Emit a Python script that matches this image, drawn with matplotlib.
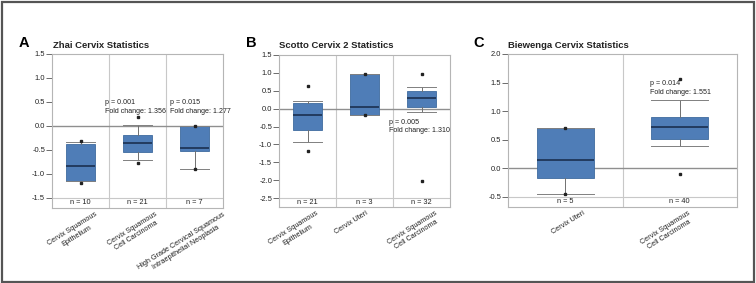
import numpy as np
import matplotlib
matplotlib.use("Agg")
from matplotlib import pyplot as plt
from matplotlib.patches import Rectangle
from matplotlib.transforms import ScaledTranslation

plt.rcParams['font.family'] = ['Liberation Sans', 'DejaVu Sans']

# Panel A - Zhai
a_labels = ['Cervix Squamous\nEpithelium', 'Cervix Squamous\nCell Carcinoma',
            'High Grade Cervical Squamous\nIntraepithelial Neoplasia']
a_n = [10, 21, 7]
a_lo = [-1.15, -0.70, -0.90]
a_q1 = [-1.14, -0.55, -0.53]
a_med = [-0.84, -0.36, -0.45]
a_q3 = [-0.37, -0.19, 0.0]
a_hi = [-0.33, 0.01, 0.0]
a_min = [-1.18, -0.78, -0.90]
a_max = [-0.32, 0.18, -0.01]

# Panel B - Scotto 2
b_labels = ['Cervix Squamous\nEpithelium', 'Cervix Uteri', 'Cervix Squamous\nCell Carcinoma']
b_n = [21, 3, 32]
b_lo = [-0.93, -0.18, -0.09]
b_q1 = [-0.60, -0.18, 0.05]
b_med = [-0.18, 0.04, 0.31]
b_q3 = [0.16, 0.98, 0.49]
b_hi = [0.20, 0.98, 0.61]
b_min = [-1.19, -0.18, -2.03]
b_max = [0.62, 0.98, 0.97]

# Panel C - Biewenga
c_labels = ['Cervix Uteri', 'Cervix Squamous\nCell Carcinoma']
c_n = [5, 40]
c_lo = [-0.44, 0.39]
c_q1 = [-0.16, 0.52]
c_med = [0.15, 0.73]
c_q3 = [0.71, 0.89]
c_hi = [0.71, 1.20]
c_min = [-0.44, -0.10]
c_max = [0.71, 1.57]

W, H = 756, 283
fig = plt.figure(figsize=(W / 100, H / 100), dpi=100)


def add_ax(l, r, t, b):
    return fig.add_axes([l / W, 1 - b / H, (r - l) / W, (b - t) / H])


def draw_panel(ax, labels, n, lo, q1, med, q3, hi, mn, mx, ymin, ymax, pad, shifts):
    stats = []
    for i in range(len(labels)):
        stats.append(dict(whislo=lo[i], q1=q1[i], med=med[i], q3=q3[i],
                          whishi=hi[i], fliers=[mn[i], mx[i]]))
    pos = np.arange(len(labels))
    ax.bxp(stats, positions=pos, widths=0.5, capwidths=0.5, patch_artist=True,
           boxprops=dict(facecolor='#4f7db7', edgecolor='#3f6b9f', linewidth=0.6),
           medianprops=dict(color='#1b3050', linewidth=1.2),
           whiskerprops=dict(color='#707070', linewidth=0.7),
           capprops=dict(color='#808080', linewidth=0.7),
           flierprops=dict(marker='s', markersize=1.6, markerfacecolor='#222222',
                           markeredgecolor='#222222'))
    ax.set_xlim(-0.5, len(labels) - 0.5)
    ax.set_ylim(ymin - pad, ymax)
    for x in pos[1:]:
        ax.axvline(x - 0.5, color='#c8c8c8', lw=0.8, zorder=0)
    ax.axhline(0, color='#8f8f8f', lw=1.0, zorder=1)
    ax.axhline(ymin, color='#c8c8c8', lw=0.8, zorder=0)
    for i in pos:
        ax.text(i, ymin - pad / 2, 'n = %d' % n[i], ha='center', va='center',
                fontsize=5.3, color='#222222')
    ticks = np.arange(ymin, ymax + 0.01, 0.5)
    ax.set_yticks(ticks)
    ax.set_yticklabels(['%.1f' % v for v in ticks])
    ax.set_xticks([])
    # rotated category labels below the n row
    trans = ax.get_xaxis_transform()
    for i in pos:
        off = ScaledTranslation(shifts[i] / 100, -3 / 100, fig.dpi_scale_trans)
        ax.text(i, 0, labels[i], transform=trans + off, rotation=32,
                rotation_mode='anchor', ha='right', va='top',
                multialignment='center', fontsize=5.2, color='#222222')
    ax.tick_params(axis='y', labelsize=5.4, length=4, width=0.6, color='#555555',
                   labelcolor='#222222', pad=1)
    for s in ax.spines.values():
        s.set_color('#b5b5b5')
        s.set_linewidth(0.8)


def annot(ax, x, y, text):
    ax.text(x, y, text, fontsize=5.1, color='#222222', ha='left', va='center',
            linespacing=1.35)


ax_a = add_ax(52, 223, 54, 208)
draw_panel(ax_a, a_labels, a_n, a_lo, a_q1, a_med, a_q3, a_hi, a_min, a_max,
           -1.5, 1.5, 0.21, [14, 17, 28])
annot(ax_a, 0.43, 0.40, 'p = 0.001\nFold change: 1.356')
annot(ax_a, 1.57, 0.40, 'p = 0.015\nFold change: 1.277')

ax_b = add_ax(279, 450, 55, 207)
draw_panel(ax_b, b_labels, b_n, b_lo, b_q1, b_med, b_q3, b_hi, b_min, b_max,
           -2.5, 1.5, 0.25, [8, 1, 13])
annot(ax_b, 1.43, -0.50, 'p = 0.005\nFold change: 1.310')

ax_c = add_ax(508, 737, 54, 207)
draw_panel(ax_c, c_labels, c_n, c_lo, c_q1, c_med, c_q3, c_hi, c_min, c_max,
           -0.5, 2.0, 0.175, [17, 8])
annot(ax_c, 0.74, 1.41, 'p = 0.014\nFold change: 1.551')

# panel letters and titles
for x, letter in [(19, 'A'), (246, 'B'), (473, 'C')]:
    fig.text(x / W, 1 - 43 / H, letter, fontsize=10.5, fontweight='bold', va='center')
for x, title in [(53, 'Zhai Cervix Statistics'), (279, 'Scotto Cervix 2 Statistics'),
                 (508, 'Biewenga Cervix Statistics')]:
    fig.text(x / W, 1 - 45 / H, title, fontsize=6.8, fontweight='bold',
             color='#222222', va='center')

# outer frame
fig.patches.append(Rectangle((1.5 / W, 1.5 / H), 752 / W, 280 / H, transform=fig.transFigure,
                             fill=False, edgecolor='#555555', linewidth=1.6))

fig.savefig('out.png', dpi=100)
